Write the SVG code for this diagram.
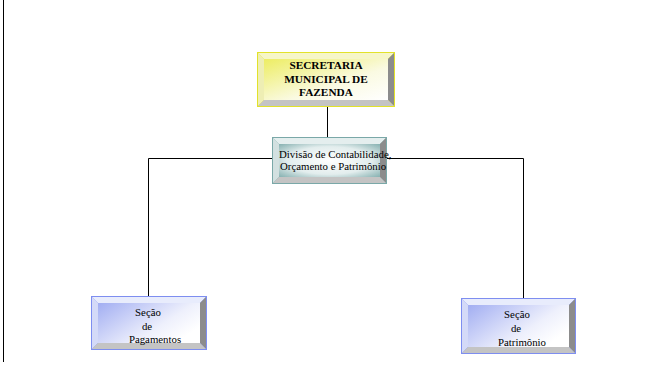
<svg xmlns="http://www.w3.org/2000/svg" width="650" height="366" viewBox="0 0 650 366">
  <defs>
    <linearGradient id="faceYellow" x1="0" y1="0" x2="1" y2="1">
      <stop offset="0" stop-color="#eded62"/>
      <stop offset="0.6" stop-color="#fafae2"/>
      <stop offset="1" stop-color="#ffffff"/>
    </linearGradient>
    <radialGradient id="faceTeal" cx="0.5" cy="0.5" r="0.7">
      <stop offset="0" stop-color="#ffffff"/>
      <stop offset="0.6" stop-color="#e2eded"/>
      <stop offset="1" stop-color="#88b2b2"/>
    </radialGradient>
    <linearGradient id="faceBlue" x1="0" y1="0" x2="1" y2="0.6">
      <stop offset="0" stop-color="#a2aef2"/>
      <stop offset="0.7" stop-color="#eef0fc"/>
      <stop offset="1" stop-color="#ffffff"/>
    </linearGradient>
  </defs>
  <style>
    .conn { fill: none; stroke: #000; stroke-width: 1; }
    .bevel-dark { fill: #8c8c8c; }
    .bevel-low { fill: #c4c4c4; }
    text { font-family: "Liberation Serif", "DejaVu Serif", "Times New Roman", serif; fill: #000; }
    .c { text-anchor: middle; }
    .bold { font-weight: bold; font-size: 11.3px; }
    .mid { font-size: 10.8px; }
    .low { font-size: 10.8px; }
  </style>
  <rect width="650" height="366" fill="#ffffff"/>
  <!-- page margin rule on the left -->
  <line x1="3.5" y1="0" x2="3.5" y2="362" stroke="#000" stroke-width="1"/>

  <g id="connectors">
    <line class="conn" x1="327.5" y1="107" x2="327.5" y2="137"/>
    <polyline class="conn" points="272,158.5 148.5,158.5 148.5,296"/>
    <polyline class="conn" points="387,158.5 523.5,158.5 523.5,298"/>
  </g>

  <!-- Secretaria -->
  <g id="secretaria">
    <rect x="257" y="52" width="138" height="55" fill="#e2e22a"/>
    <polygon points="258,53 394,53 388,59 264,59" fill="#f6f6c8"/>
    <polygon points="258,53 264,59 264,100 258,106" fill="#eeeeb4"/>
    <polygon class="bevel-dark" points="394,53 394,106 388,100 388,59"/>
    <polygon class="bevel-low" points="258,106 264,100 388,100 394,106"/>
    <rect x="264" y="59" width="124" height="41" fill="url(#faceYellow)"/>
    <text class="c bold" x="326" y="69">SECRETARIA</text>
    <text class="c bold" x="326" y="82.5">MUNICIPAL DE</text>
    <text class="c bold" x="326" y="95.5">FAZENDA</text>
  </g>

  <!-- Divisao -->
  <g id="divisao">
    <rect x="272" y="137" width="115" height="47" fill="#7aa8a8"/>
    <polygon points="273,138 386,138 380,144 279,144" fill="#e4eeee"/>
    <polygon points="273,138 279,144 279,177 273,183" fill="#d2e0e0"/>
    <polygon class="bevel-dark" points="386,138 386,183 380,177 380,144"/>
    <polygon class="bevel-low" points="273,183 279,177 380,177 386,183"/>
    <rect x="279" y="144" width="101" height="33" fill="url(#faceTeal)"/>
    <text class="mid" x="279" y="157.5">Divisão de Contabilidade,</text>
    <text class="mid" x="280" y="170">Orçamento e Patrimônio</text>
  </g>

  <!-- Secao de Pagamentos -->
  <g id="pagamentos">
    <rect x="91" y="296" width="116" height="54" fill="#7e8ef0"/>
    <polygon points="92,297 206,297 200,303 98,303" fill="#e8ecfc"/>
    <polygon points="92,297 98,303 98,343 92,349" fill="#d4daf8"/>
    <polygon class="bevel-dark" points="206,297 206,349 200,343 200,303"/>
    <polygon class="bevel-low" points="92,349 98,343 200,343 206,349"/>
    <rect x="98" y="303" width="102" height="40" fill="url(#faceBlue)"/>
    <text class="c low" x="148" y="316">Seção</text>
    <text class="c low" x="147" y="330">de</text>
    <text class="c low" x="155" y="343">Pagamentos</text>
  </g>

  <!-- Secao de Patrimonio -->
  <g id="patrimonio">
    <rect x="461" y="298" width="115" height="56" fill="#7e8ef0"/>
    <polygon points="462,299 575,299 569,305 468,305" fill="#e8ecfc"/>
    <polygon points="462,299 468,305 468,347 462,353" fill="#d4daf8"/>
    <polygon class="bevel-dark" points="575,299 575,353 569,347 569,305"/>
    <polygon class="bevel-low" points="462,353 468,347 569,347 575,353"/>
    <rect x="468" y="305" width="101" height="42" fill="url(#faceBlue)"/>
    <text class="c low" x="517" y="318">Seção</text>
    <text class="c low" x="516" y="332">de</text>
    <text class="c low" x="522" y="346">Patrimônio</text>
  </g>
</svg>
